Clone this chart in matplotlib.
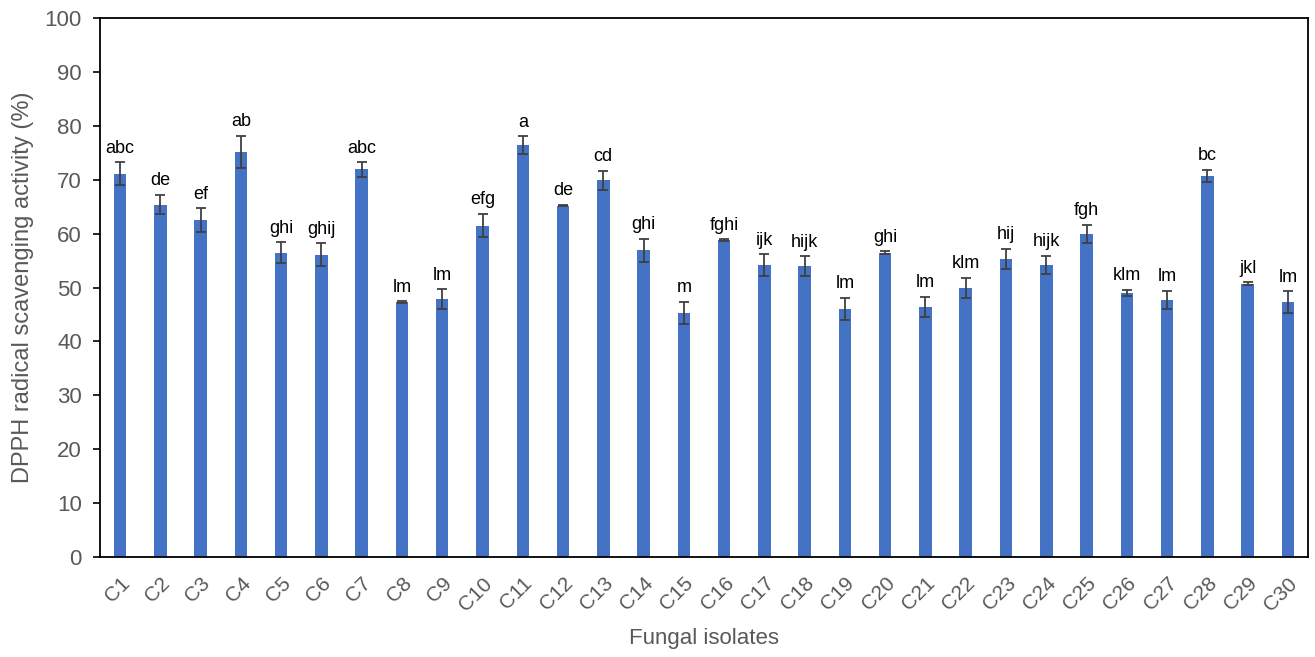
import numpy as np
import matplotlib.pyplot as plt

plt.rcParams['font.family'] = ['Liberation Sans', 'DejaVu Sans']

# DPPH scavenging of each isolate: mean, SD and significance letters
isolates = ['C%d' % i for i in range(1, 31)]
activity = [71.1, 65.4, 62.5, 75.2, 56.5, 56.1, 71.9, 47.3, 47.9, 61.5,
            76.4, 65.2, 69.9, 56.9, 45.3, 58.8, 54.2, 54.0, 46.0, 56.5,
            46.4, 49.9, 55.3, 54.2, 59.9, 49.0, 47.7, 70.7, 50.7, 47.3]
sd = [2.1, 1.8, 2.2, 3.0, 1.9, 2.1, 1.3, 0.15, 1.8, 2.2,
      1.7, 0.15, 1.8, 2.1, 2.1, 0.15, 2.0, 1.8, 2.1, 0.25,
      1.9, 1.9, 1.9, 1.7, 1.7, 0.6, 1.7, 1.1, 0.25, 2.0]
letters = ['abc', 'de', 'ef', 'ab', 'ghi', 'ghij', 'abc', 'lm', 'lm', 'efg',
           'a', 'de', 'cd', 'ghi', 'm', 'fghi', 'ijk', 'hijk', 'lm', 'ghi',
           'lm', 'klm', 'hij', 'hijk', 'fgh', 'klm', 'lm', 'bc', 'jkl', 'lm']

gray = '#595959'

fig = plt.figure(figsize=(13.15, 6.57), dpi=100)
ax = fig.add_axes([0.076, 0.152, 0.9187, 0.8206])

x = np.arange(len(isolates))
ax.bar(x, activity, width=0.31, color='#4472C4', zorder=2)
ax.errorbar(x, activity, yerr=sd, fmt='none', ecolor='#404040',
            elinewidth=1.3, capsize=3.5, capthick=1.3, zorder=3)

for xi, v, e, lab in zip(x, activity, sd, letters):
    ax.annotate(lab, (xi, v + e), xytext=(0, 4), textcoords='offset points',
                ha='center', va='bottom', fontsize=13, color='black')

ax.set_xlim(-0.5, len(isolates) - 0.5)
ax.set_ylim(0, 100)
ax.set_yticks(np.arange(0, 101, 10))
ax.set_xticks(x)
ax.set_xticklabels(isolates, rotation=45, ha='right', rotation_mode='anchor')

ax.tick_params(axis='y', direction='out', length=5, width=1.2,
               labelsize=16, labelcolor=gray, pad=8)
ax.tick_params(axis='x', direction='in', length=5, width=1.2,
               labelsize=15, labelcolor=gray, pad=12)

for s in ax.spines.values():
    s.set_linewidth(1.3)
    s.set_color('black')

ax.set_ylabel('DPPH radical scavenging activity (%)', fontsize=17,
              color=gray, labelpad=8)
ax.set_xlabel('Fungal isolates', fontsize=16, color=gray, labelpad=10)

fig.savefig('out.png', dpi=100)
